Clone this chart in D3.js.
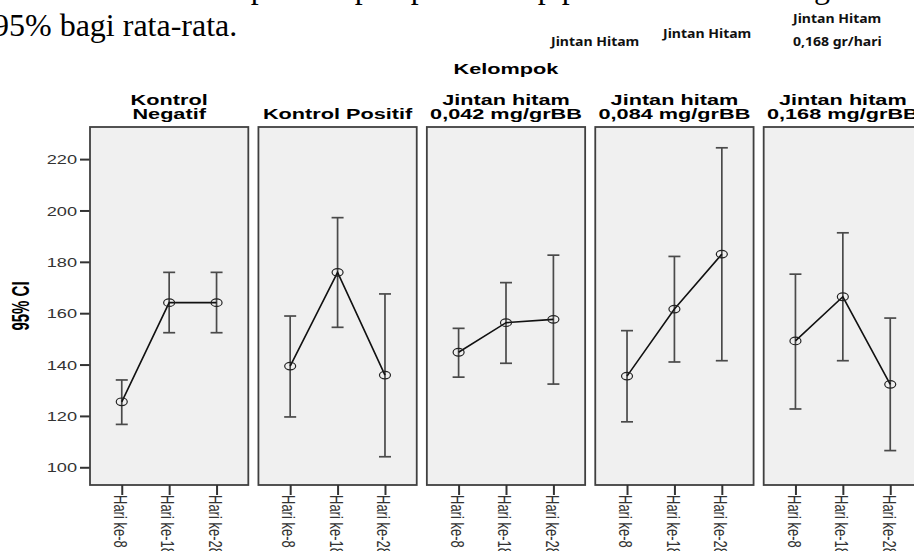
<!DOCTYPE html>
<html>
<head>
<meta charset="utf-8">
<script src="https://cdn.jsdelivr.net/npm/d3@7"></script>
<style>
  body { margin: 0; background: #fff; }
  svg { display: block; }
  .tick text { fill: #333; }
</style>
</head>
<body>
<svg id="chart" width="914" height="551"></svg>
<script>
// data
var groups = ["Kontrol Negatif", "Kontrol Positif", "Jintan hitam 0,042 mg/grBB",
  "Jintan hitam 0,084 mg/grBB", "Jintan hitam 0,168 mg/grBB"];
var groupLines = [["Kontrol", "Negatif"], ["Kontrol Positif"], ["Jintan hitam", "0,042 mg/grBB"],
  ["Jintan hitam", "0,084 mg/grBB"], ["Jintan hitam", "0,168 mg/grBB"]];
var days = ["Hari ke-8", "Hari ke-18", "Hari ke-28"];

var meanValues = [
  [125.5, 164.1, 164.1],
  [139.4, 175.9, 135.9],
  [144.8, 156.3, 157.6],
  [135.5, 161.6, 183.0],
  [149.2, 166.4, 132.3]
];
var lowerCI = [
  [116.7, 152.4, 152.4],
  [119.6, 154.5, 104.1],
  [135.1, 140.5, 132.4],
  [117.7, 141.0, 141.5],
  [122.7, 141.5, 106.5]
];
var upperCI = [
  [134.0, 175.9, 175.9],
  [158.9, 197.2, 167.5],
  [154.1, 171.9, 182.6],
  [153.2, 182.1, 224.4],
  [175.2, 191.3, 158.1]
];
var yTicks = [100, 120, 140, 160, 180, 200, 220];

var noteLines = [
  { text: "Jintan Hitam", x: 551, y: 46 },
  { text: "Jintan Hitam", x: 663, y: 38 },
  { text: "Jintan Hitam", x: 793, y: 23 },
  { text: "0,168 gr/hari", x: 793, y: 46 }
];

var svg = d3.select("#chart");
var SX = 1.4; // the picture is stretched sideways

var MARGINS = { top: 127, bottom: 485, left: 90, right: 922 };

var xGroup = d3.scaleBand()
  .domain(groups)
  .range([MARGINS.left, MARGINS.right])
  .paddingInner(0.06);

var xDay = d3.scalePoint()
  .domain(days)
  .range([0, xGroup.bandwidth()])
  .padding(0.67);

var yRange = d3.scaleLinear()
  .domain([93.1, 232.5])
  .range([MARGINS.bottom, MARGINS.top]);

// text above the chart (document body)
svg.append("text")
  .attr("x", -7).attr("y", -2)
  .style("font-family", "Liberation Serif, Times New Roman, serif")
  .style("font-size", "32px")
  .text("standar deviasi setiap kelompok pada setiap periode disertai dengan selang kepercayaan");
svg.append("text")
  .attr("x", -7).attr("y", 36)
  .style("font-family", "Liberation Serif, Times New Roman, serif")
  .style("font-size", "32px")
  .text("95% bagi rata-rata.");

svg.selectAll(".note")
  .data(noteLines)
  .enter().append("text")
  .attr("class", "note")
  .attr("transform", function (d) { return "translate(" + d.x + "," + d.y + ") scale(1.08,1)"; })
  .style("font-family", "Noto Sans, sans-serif")
  .style("font-weight", "bold")
  .style("font-size", "13px")
  .style("fill", "#111")
  .text(function (d) { return d.text; });

// Kelompok title
svg.append("text")
  .attr("transform", "translate(" + ((MARGINS.left + MARGINS.right) / 2) + ",74) scale(" + SX + ",1)")
  .attr("text-anchor", "middle")
  .style("font-family", "Liberation Sans, Arial, sans-serif")
  .style("font-weight", "bold")
  .style("font-size", "15.5px")
  .text("Kelompok");

// y axis
var yAxis = svg.append("g")
  .attr("class", "y axis")
  .attr("transform", "translate(" + MARGINS.left + ",0)")
  .call(d3.axisLeft(yRange).tickValues(yTicks).tickSize(10).tickFormat(d3.format("d")))
  .call(function (g) { g.select(".domain").remove(); });
yAxis.selectAll(".tick line").attr("stroke", "#333").attr("stroke-width", 2);
yAxis.selectAll(".tick text")
  .attr("x", null).attr("dy", "0.36em")
  .attr("transform", "translate(-13,0) scale(" + SX + ",1)")
  .style("font-family", "Liberation Sans, Arial, sans-serif")
  .style("font-size", "13px");

svg.append("text")
  .attr("transform", "translate(29,306) scale(1.6,1) rotate(-90)")
  .attr("text-anchor", "middle")
  .style("font-family", "Liberation Sans, Arial, sans-serif")
  .style("font-weight", "bold")
  .style("font-size", "15px")
  .text("95% CI");

// panels
var lineFunc = d3.line()
  .x(function (d) { return xDay(d.day); })
  .y(function (d) { return yRange(d.mean); });

groups.forEach(function (g, gi) {
  var panel = svg.append("g")
    .attr("transform", "translate(" + xGroup(g) + ",0)");

  var bw = xGroup.bandwidth();

  // header
  var lines = groupLines[gi];
  lines.forEach(function (t, li) {
    panel.append("text")
      .attr("transform", "translate(" + (bw / 2) + "," + (119 - (lines.length - 1 - li) * 14.5) + ") scale(" + SX + ",1)")
      .attr("text-anchor", "middle")
      .style("font-family", "Liberation Sans, Arial, sans-serif")
      .style("font-weight", "bold")
      .style("font-size", "15.5px")
      .text(t);
  });

  panel.append("rect")
    .attr("x", 0).attr("y", MARGINS.top)
    .attr("width", bw).attr("height", MARGINS.bottom - MARGINS.top)
    .attr("fill", "#f0f0f0")
    .attr("stroke", "#404040")
    .attr("stroke-width", 1.8);

  var pts = days.map(function (d, i) {
    return { day: d, mean: meanValues[gi][i], lo: lowerCI[gi][i], hi: upperCI[gi][i] };
  });

  var bars = panel.selectAll(".err").data(pts).enter().append("g").attr("class", "err");
  bars.append("line")
    .attr("x1", function (d) { return xDay(d.day); })
    .attr("x2", function (d) { return xDay(d.day); })
    .attr("y1", function (d) { return yRange(d.lo); })
    .attr("y2", function (d) { return yRange(d.hi); });
  bars.append("line")
    .attr("x1", function (d) { return xDay(d.day) - 6; })
    .attr("x2", function (d) { return xDay(d.day) + 6; })
    .attr("y1", function (d) { return yRange(d.hi); })
    .attr("y2", function (d) { return yRange(d.hi); });
  bars.append("line")
    .attr("x1", function (d) { return xDay(d.day) - 6; })
    .attr("x2", function (d) { return xDay(d.day) + 6; })
    .attr("y1", function (d) { return yRange(d.lo); })
    .attr("y2", function (d) { return yRange(d.lo); });
  bars.selectAll("line").attr("stroke", "#4a4a4a").attr("stroke-width", 1.7);

  panel.append("path")
    .attr("d", lineFunc(pts))
    .attr("stroke", "#111")
    .attr("stroke-width", 1.6)
    .attr("fill", "none");

  panel.selectAll(".pt").data(pts).enter().append("ellipse")
    .attr("class", "pt")
    .attr("cx", function (d) { return xDay(d.day); })
    .attr("cy", function (d) { return yRange(d.mean); })
    .attr("rx", 5.5).attr("ry", 3.8)
    .attr("fill", "none")
    .attr("stroke", "#222")
    .attr("stroke-width", 1.2);

  var xAxis = panel.append("g")
    .attr("class", "x axis")
    .attr("transform", "translate(0," + MARGINS.bottom + ")")
    .call(d3.axisBottom(xDay).tickSize(10))
    .call(function (a) { a.select(".domain").remove(); });
  xAxis.selectAll(".tick line").attr("stroke", "#333").attr("stroke-width", 2);
  xAxis.selectAll(".tick text")
    .attr("y", null).attr("dy", "0.45em")
    .attr("text-anchor", "start")
    .attr("transform", "translate(0,10) scale(" + SX + ",1) rotate(90)")
    .style("font-family", "Liberation Sans, Arial, sans-serif")
    .style("font-size", "13px");
});
</script>
</body>
</html>
